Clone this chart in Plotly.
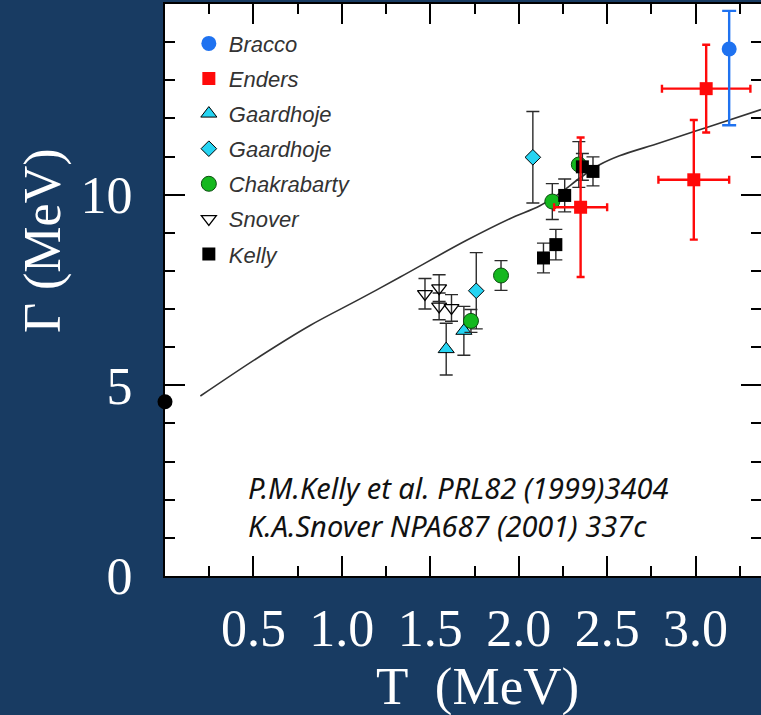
import plotly.graph_objects as go

# ---- data -------------------------------------------------------------
# Model curve of the GDR width vs temperature
curve_T = [0.20, 0.54, 0.82, 1.10, 1.33, 1.70, 1.95, 2.12, 2.23, 2.35, 2.46, 2.57, 2.80, 3.08, 3.37]
curve_G = [4.72, 5.77, 6.57, 7.26, 7.84, 8.79, 9.37, 9.71, 10.03, 10.45, 10.79, 11.02, 11.36, 11.79, 12.23]

# Ground-state width
gs_T = [0.0]
gs_G = [4.57]

bracco_T = [3.19]
bracco_G = [13.82]
bracco_dG_up = [1.0]
bracco_dG_down = [2.0]

enders_T = [2.35, 2.99, 3.06]
enders_G = [9.67, 10.39, 12.78]
enders_dT = [0.15, 0.20, 0.25]
enders_dG = [1.83, 1.57, 1.15]

gaard_tri_T = [1.59, 1.69]
gaard_tri_G = [5.95, 6.43]
gaard_tri_dG = [0.68, 0.64]

gaard_dia_T = [1.76, 2.08]
gaard_dia_G = [7.48, 10.98]
gaard_dia_dG = [1.0, 1.2]

chak_T = [1.73, 1.90, 2.19, 2.34]
chak_G = [6.69, 7.88, 9.82, 10.79]
chak_dG = [0.30, 0.39, 0.47, 0.60]

snover_T = [1.47, 1.55, 1.55, 1.62]
snover_G = [7.40, 7.55, 7.07, 7.03]
snover_dG = [0.40, 0.35, 0.35, 0.35]

kelly_T = [2.14, 2.21, 2.26, 2.36, 2.42]
kelly_G = [8.34, 8.69, 9.98, 10.73, 10.61]
kelly_dG = [0.39, 0.40, 0.43, 0.35, 0.38]

x_tickvals = [0.5, 1.0, 1.5, 2.0, 2.5, 3.0]
x_ticktext = ["0.5", "1.0", "1.5", "2.0", "2.5", "3.0"]
y_tickvals = [0, 5, 10]
y_ticktext = ["0", "5", "10"]

X_RANGE = [0, 3.37]
Y_RANGE = [0, 15]

citation = "P.M.Kelly et al. PRL82 (1999)3404<br>K.A.Snover NPA687 (2001) 337c"

# ---- styling ----------------------------------------------------------
NAVY = "#183b62"
CYAN = "#26d4f2"
GREEN = "#14b81e"
RED = "#ff0a0a"
BLUE = "#1f72f0"
DARK = "#2b2b2b"


def err(vals, color, width, thick, minus=None):
    d = dict(type="data", array=vals, visible=True, color=color,
             thickness=thick, width=width)
    if minus is not None:
        d.update(symmetric=False, arrayminus=minus)
    return d


fig = go.Figure()

fig.add_trace(go.Scatter(x=curve_T, y=curve_G, mode="lines",
                         line=dict(color="#333333", width=1.6, shape="spline", smoothing=1.0),
                         showlegend=False, hoverinfo="skip"))

fig.add_trace(go.Scatter(x=gs_T, y=gs_G, mode="markers",
                         marker=dict(symbol="circle", size=15, color="black"),
                         showlegend=False, cliponaxis=False))

fig.add_trace(go.Scatter(x=snover_T, y=snover_G, mode="markers", name="Snover",
                         legendgroup="g6", legendrank=6,
                         marker=dict(symbol="triangle-down-open", size=13,
                                     color="black", line=dict(width=1.3)),
                         error_y=err(snover_dG, DARK, 6.5, 1.4)))

fig.add_trace(go.Scatter(x=gaard_tri_T, y=gaard_tri_G, mode="markers", name="Gaardhoje",
                         legendgroup="g3", legendrank=3,
                         marker=dict(symbol="triangle-up", size=14, color=CYAN,
                                     line=dict(color="black", width=1)),
                         error_y=err(gaard_tri_dG, DARK, 6.5, 1.4)))

fig.add_trace(go.Scatter(x=gaard_dia_T, y=gaard_dia_G, mode="markers", name="Gaardhoje",
                         legendgroup="g4", legendrank=4,
                         marker=dict(symbol="diamond", size=12, color=CYAN,
                                     line=dict(color="black", width=1)),
                         error_y=err(gaard_dia_dG, DARK, 6.5, 1.4)))

fig.add_trace(go.Scatter(x=chak_T, y=chak_G, mode="markers", name="Chakrabarty",
                         legendgroup="g5", legendrank=5,
                         marker=dict(symbol="circle", size=15, color=GREEN,
                                     line=dict(color="#0b4d10", width=1)),
                         error_y=err(chak_dG, DARK, 6.5, 1.4)))

fig.add_trace(go.Scatter(x=kelly_T, y=kelly_G, mode="markers", name="Kelly",
                         legendgroup="g7", legendrank=7,
                         marker=dict(symbol="square", size=13, color="black"),
                         error_y=err(kelly_dG, DARK, 6.5, 1.4)))

fig.add_trace(go.Scatter(x=enders_T, y=enders_G, mode="markers", name="Enders",
                         legendgroup="g2", legendrank=2,
                         marker=dict(symbol="square", size=13, color=RED),
                         error_y=err(enders_dG, RED, 4, 2.4),
                         error_x=err(enders_dT, RED, 4, 2.4)))

fig.add_trace(go.Scatter(x=bracco_T, y=bracco_G, mode="markers", name="Bracco",
                         legendgroup="g1", legendrank=1,
                         marker=dict(symbol="circle", size=15, color=BLUE),
                         error_y=err(bracco_dG_up, BLUE, 7, 2.4, bracco_dG_down)))

# empty trace that carries the top / right tick axes
fig.add_trace(go.Scatter(x=[], y=[], xaxis="x2", yaxis="y2", showlegend=False,
                         hoverinfo="skip"))

tick_font = dict(family="Liberation Serif", size=52, color="white")
major = dict(ticks="inside", ticklen=20, tickwidth=1.8, tickcolor="black")

fig.update_layout(
    xaxis=dict(
        range=X_RANGE, tickmode="array", tickvals=x_tickvals, ticktext=x_ticktext,
        minor=dict(dtick=0.25, tick0=0, ticks="inside", ticklen=10, tickwidth=1.8,
                   tickcolor="black"),
        showline=True, linecolor="black", linewidth=2, mirror=True,
        showgrid=False, zeroline=False, tickfont=tick_font, ticklabelstandoff=6,
        **major,
    ),
    yaxis=dict(
        range=Y_RANGE, tickmode="array", tickvals=y_tickvals, ticktext=y_ticktext,
        minor=dict(dtick=1, tick0=0, ticks="inside", ticklen=10, tickwidth=1.8,
                   tickcolor="black"),
        showline=True, linecolor="black", linewidth=2, mirror=False,
        showgrid=False, zeroline=False, tickfont=tick_font, ticklabelstandoff=20,
        **major,
    ),
    xaxis2=dict(
        overlaying="x", side="top", anchor="y2", range=X_RANGE, tickmode="array",
        tickvals=x_tickvals,
        minor=dict(dtick=0.25, tick0=0, ticks="inside", ticklen=10, tickwidth=1.8,
                   tickcolor="black"),
        showticklabels=False, showline=False, showgrid=False, zeroline=False,
        **major,
    ),
    yaxis2=dict(
        overlaying="y", side="right", anchor="x2", range=Y_RANGE, tickmode="array",
        tickvals=[5, 10],
        minor=dict(dtick=1, tick0=0, ticks="inside", ticklen=10, tickwidth=1.8,
                   tickcolor="black"),
        showticklabels=False, showline=False, showgrid=False, zeroline=False,
        **major,
    ),
)

fig.update_layout(
    width=761, height=715,
    margin=dict(l=165, r=0, t=4, b=139),
    paper_bgcolor=NAVY, plot_bgcolor="white",
    legend=dict(
        x=0.04, y=0.9675, xanchor="left", yanchor="top",
        bgcolor="rgba(0,0,0,0)", borderwidth=0, tracegroupgap=3.5,
        font=dict(family="Liberation Sans", size=22, color="#333333", style="italic"),
        itemsizing="trace",
    ),
    annotations=[
        dict(text="T\u00a0 (MeV)", x=(477 - 165) / 596, y=(576 - 686) / 572,
             xref="paper", yref="paper",
             showarrow=False, xanchor="center", yanchor="middle",
             font=dict(family="Liberation Serif", size=53, color="white")),
        dict(text="\u0393 (MeV)", x=-0.205, y=0.587, xref="paper", yref="paper",
             showarrow=False, xanchor="center", yanchor="middle", textangle=-90,
             font=dict(family="Liberation Serif", size=52, color="white")),
        dict(text=citation, x=(246 - 165) / 596, y=(576 - 506) / 572,
             xref="paper", yref="paper", showarrow=False,
             xanchor="left", yanchor="middle", align="left",
             font=dict(family="Noto Sans", size=29, color="#111111", style="italic")),
    ],
)

fig.write_html("out.html")
